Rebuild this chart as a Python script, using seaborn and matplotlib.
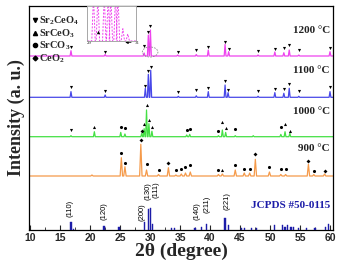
import numpy as np
import pandas as pd
import matplotlib
matplotlib.use("Agg")
import matplotlib.pyplot as plt
import seaborn as sns
from matplotlib.lines import Line2D
from matplotlib.patches import Ellipse

sns.set_theme(style="ticks")
plt.rcParams["font.family"] = ["Liberation Serif", "DejaVu Serif"]
plt.rcParams["mathtext.fontset"] = "custom"
plt.rcParams["mathtext.rm"] = "Liberation Serif:bold"
plt.rcParams["mathtext.bf"] = "Liberation Serif:bold"
plt.rcParams["mathtext.it"] = "Liberation Serif:bold"

# ---------------- data ----------------
temps = ["1200 °C", "1100 °C", "1000 °C", "900 °C"]
trace_colors = ["#ee44ee", "#4848e8", "#44e044", "#f59a4a"]

pos_1200 = [16.8, 22.5, 29.0, 29.7, 30.05, 34.6, 37.7, 39.7, 42.5, 43.1, 48.0, 50.8, 52.3, 53.2, 54.8, 60.0]
int_1200 = [5.3, 1.5, 3.0, 21, 26, 1.0, 1.5, 6.0, 11.7, 4.3, 1.0, 4.0, 3.3, 6.0, 1.0, 4.3]
mk_1200 = [9.3, 4.3, 10.3, 23.7, 30, 4.3, 6.0, 8.7, 14.3, 7.5, 5.3, 6.7, 7.7, 11, 6.0, 8.3]
ph_1200 = ["Sr2CeO4"] * 16

pos_1100 = [16.8, 22.5, 29.2, 29.7, 30.1, 34.7, 37.7, 39.7, 42.5, 43.0, 48.0, 50.8, 52.3, 53.2, 54.8, 60.0]
int_1100 = [5.7, 2.3, 9.0, 23, 27, 1.0, 1.5, 5.7, 12.3, 4.7, 1.0, 4.7, 4.0, 9.0, 1.0, 5.7]
mk_1100 = [10, 6.7, 11.7, 26, 30, 5.7, 7.3, 9.7, 16.3, 7.3, 6.7, 8.3, 8.0, 13, 6.7, 10]
ph_1100 = ["Sr2CeO4"] * 16

pos_1000 = [16.8, 20.7, 25.1, 25.8, 28.6, 29.0, 29.4, 29.8, 30.3, 36.1, 36.6, 41.4, 42.05, 42.6, 44.2, 47.2, 51.8, 52.5, 53.3]
int_1000 = [1.0, 5.0, 4.3, 2.7, 3.3, 8.0, 26.7, 13, 5.5, 1.7, 2.3, 1.0, 6.7, 4.3, 1.0, 1.0, 2.3, 5.0, 3.3]
mkpos_1000 = [16.8, 20.7, 25.1, 25.8, 28.6, 29.0, 29.4, 29.8, 30.3, 36.1, 36.6, 41.4, 42.05, 42.6, 44.2, 51.8, 52.5, 53.3]
mk_1000 = [6.7, 9.3, 10, 8.3, 6.0, 12.3, 31.7, 16.7, 9.3, 6.7, 7.7, 6.0, 14.3, 8.3, 7.3, 10, 12.3, 6.0]
ph_1000 = ["Sr2CeO4", "SrCeO3", "SrCO3", "SrCO3", "CeO2", "SrCeO3", "SrCeO3", "SrCeO3", "SrCeO3",
           "SrCO3", "SrCO3", "SrCO3", "SrCeO3", "SrCeO3", "SrCO3", "SrCO3", "SrCeO3", "SrCeO3"]

pos_900 = [20.3, 25.2, 25.8, 28.45, 29.4, 31.4, 33.05, 34.3, 35.2, 35.9, 36.7, 41.4, 42.05, 44.2, 45.7,
           46.6, 47.55, 49.9, 51.8, 52.6, 56.4, 57.3, 59.1]
int_900 = [1.0, 18.3, 9.3, 31.7, 6.0, 1.5, 8.3, 1.0, 2.0, 3.0, 4.0, 1.5, 2.0, 6.0, 3.0,
           3.0, 16.7, 4.0, 1.5, 1.5, 11.7, 1.5, 2.0]
mkpos_900 = pos_900[1:]
mk_900 = [23.3, 13.3, 35.7, 11.7, 6.0, 13.3, 6.0, 7.3, 9.0, 10.7, 6.0, 6.0, 10.7, 7.3,
          6.7, 21.7, 9.0, 6.7, 6.7, 15, 5.0, 5.0]
ph_900 = ["SrCO3", "SrCO3", "CeO2", "SrCO3", "SrCO3", "CeO2", "SrCO3", "SrCO3", "SrCO3", "SrCO3",
          "SrCO3", "SrCeO3", "SrCO3", "SrCO3", "SrCO3", "CeO2", "SrCO3", "SrCO3", "SrCO3", "CeO2",
          "SrCO3", "CeO2"]

# JCPDS #50-0115 stick pattern
stick_pos = [16.8, 17.2, 22.3, 24.8, 29.1, 29.7, 30.05, 30.35, 33.6, 34.0, 37.5, 38.6, 39.4, 42.5, 43.05,
             45.3, 45.8, 46.9, 47.8, 50.8, 52.1, 52.5, 52.9, 53.5, 53.9, 54.7, 56.1, 57.5, 59.2, 59.7]
stick_int = [8.0, 1.5, 4.0, 3.0, 8.0, 21, 22.5, 6.0, 1.7, 1.7, 2.3, 3.3, 5.7, 11.7, 5.0,
             1.7, 1.7, 1.7, 2.3, 5.0, 5.0, 3.3, 5.0, 3.3, 3.3, 1.7, 1.7, 2.0, 3.3, 6.0]
hkl_labels = ["(110)", "(120)", "(200)", "(130)", "(111)", "(140)", "(211)", "(221)"]
hkl_pos = [16.67, 22.33, 28.67, 29.67, 31.0, 37.8, 39.5, 42.8]
hkl_y = [13, 10, 9, 30, 32, 10, 17, 20]

# inset (29-31 deg zoom of the 1200 °C pattern)
inset_pos = [29.25, 29.43, 29.69, 29.85, 29.96, 30.15, 30.25, 30.45, 30.65]
inset_int = [1.3, 1.3, 1.3, 1.3, 1.3, 1.3, 1.3, 0.35, 0.2]

offsets = [174, 132.7, 93.3, 54]
label_y = [199.3, 159.3, 118.3, 81.7]

phase_markers = {"Sr2CeO4": "v", "SrCeO3": "^", "SrCO3": "o", "CeO2": "D"}
phase_labels = {"Sr2CeO4": "Sr$_2$CeO$_4$", "SrCeO3": "SrCeO$_3$", "SrCO3": "SrCO$_3$", "CeO2": "CeO$_2$"}


def profile(pos, hts, w, base, lo=9.8, hi=60.5):
    xs, ys = [lo], [base]
    for p, h in sorted(zip(pos, hts)):
        xs += [p - w, p, p + w]
        ys += [base, base + h, base]
    xs.append(hi)
    ys.append(base)
    return xs, ys


fig = plt.figure(figsize=(3.39, 2.70), dpi=100)
ax = fig.add_axes([29 / 339, 40 / 270, 304 / 339, 224 / 270])

traces = [
    (pos_1200, int_1200, pos_1200, mk_1200, ph_1200, 0.15),
    (pos_1100, int_1100, pos_1100, mk_1100, ph_1100, 0.15),
    (pos_1000, int_1000, mkpos_1000, mk_1000, ph_1000, 0.15),
    (pos_900, int_900, mkpos_900, mk_900, ph_900, 0.2),
]

for (pp, ii, mp, mh, ph, w), off, col in zip(traces, offsets, trace_colors):
    xs, ys = profile(pp, ii, w, off)
    sns.lineplot(x=xs, y=ys, ax=ax, color=col, lw=0.9, sort=False, estimator=None)
    mdf = pd.DataFrame({"x": mp, "y": np.array(mh) + off, "phase": ph})
    for phase, sub in mdf.groupby("phase"):
        sns.scatterplot(data=sub, x="x", y="y", ax=ax, marker=phase_markers[phase],
                        color="black", s=5 if phase != "CeO2" else 4, linewidth=0, legend=False, zorder=5)

# stick pattern
ax.bar(stick_pos, stick_int, width=0.2, color="#1c1ca8", edgecolor="#1c1ca8", linewidth=0.3,
       bottom=0, zorder=3)
for lab, xp, yp in zip(hkl_labels, hkl_pos, hkl_y):
    ax.text(xp, yp, lab, rotation=90, ha="center", va="bottom", fontsize=5.5,
            family="Liberation Sans", color="black")
ax.text(0.99, 25, "JCPDS #50-0115", transform=ax.get_yaxis_transform(), ha="right", va="center",
        fontsize=8, fontweight="bold", color="#1c1ca8")

for t, yl in zip(temps, label_y):
    ax.text(0.99, yl, t, transform=ax.get_yaxis_transform(), ha="right", va="center",
            fontsize=8, fontweight="bold", color="#222222")

# dashed ellipse + arrow
ax.add_patch(Ellipse((30.0, 178), 2.6, 10, fill=False, ls=(0, (2, 1.5)), ec="#888888", lw=0.6, zorder=6))
ax.annotate("", xy=(25.4, 187.5), xytext=(27.3, 187.5),
            arrowprops=dict(arrowstyle="-|>", color="black", lw=0.5, mutation_scale=4))
ax.text(19.8, 186.5, "29", fontsize=3.5, ha="center", va="center")
ax.text(27.8, 186.5, "31", fontsize=3.5, ha="center", va="center")

# inset
axin = ax.inset_axes([0.192, 0.844, 0.161, 0.156])
ixs, iys = profile(inset_pos, inset_int, 0.07, 0.0, lo=29.0, hi=31.0)
sns.lineplot(x=ixs, y=iys, ax=axin, color="#ee44ee", lw=0.7, ls=(0, (2, 1.5)), sort=False, estimator=None)
axin.scatter([29.45], [0.25], marker="^", color="black", s=6, lw=0, zorder=5)
axin.set_xlim(29.0, 31.0)
axin.set_ylim(0, 1.0)
axin.set_xticks([])
axin.set_yticks([])
axin.set_xlabel("")
axin.set_ylabel("")
for s in axin.spines.values():
    s.set_color("#999999")
    s.set_linewidth(0.6)

# legend
handles = [Line2D([], [], marker=phase_markers[k], color="black", ls="", ms=3.0 if k != "CeO2" else 2.4)
           for k in ["Sr2CeO4", "SrCeO3", "SrCO3", "CeO2"]]
leg = ax.legend(handles, [phase_labels[k] for k in ["Sr2CeO4", "SrCeO3", "SrCO3", "CeO2"]],
                loc="upper left", bbox_to_anchor=(0.0, 0.975), frameon=False,
                handlelength=0.5, handletextpad=0.15, labelspacing=0.0, borderpad=0.1, borderaxespad=0.2,
                prop=dict(family="Liberation Serif", weight="bold", size=7.5))

ax.set_xlim(9.8, 60.5)
ax.set_ylim(0, 224)
ax.set_yticks([])
ax.set_xticks(np.arange(10, 61, 5))
ax.set_xticks(np.arange(12.5, 60, 5), minor=True)
ax.tick_params(axis="x", which="major", direction="in", length=3.5, width=0.8, pad=2)
ax.tick_params(axis="x", which="minor", direction="in", length=2, width=0.6)
for lab in ax.get_xticklabels():
    lab.set_fontfamily("Liberation Sans")
    lab.set_fontweight("bold")
    lab.set_fontsize(7.5)
for s in ax.spines.values():
    s.set_visible(True)
    s.set_color("black")
    s.set_linewidth(0.9)

ax.set_xlabel("2θ (degree)", fontsize=14, fontweight="bold", labelpad=0)
ax.set_ylabel("Intensity (a. u.)", fontsize=13, fontweight="bold", labelpad=3)

fig.savefig("out.png", dpi=100)
